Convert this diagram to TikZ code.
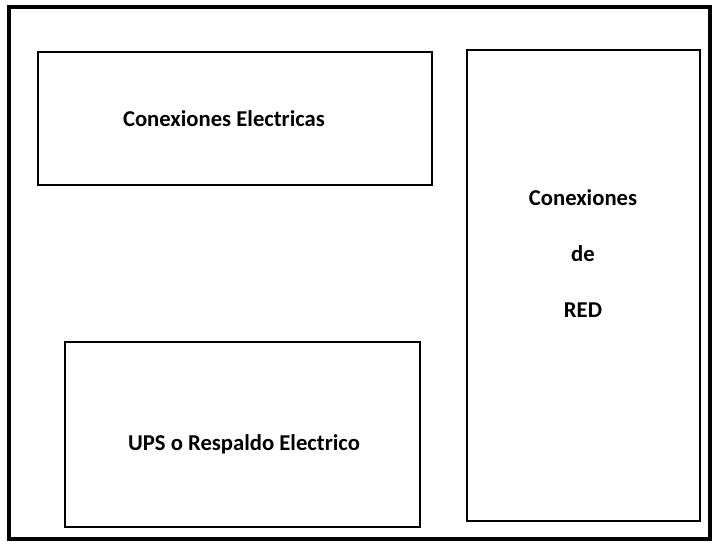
\documentclass[tikz,border=0pt]{standalone}
\usepackage{fontspec}
\setmainfont{Carlito}
\usetikzlibrary{positioning}

\tikzset{
  marco/.style = {black, line width = 2.4pt},
  caja/.style = {black, line width = 1.7pt},
  etiqueta/.style = {font = \bfseries\fontsize{17}{20}\selectfont, inner sep = 0pt}
}

\begin{document}
\begin{tikzpicture}[x = 0.75pt, y = -0.75pt]
	\useasboundingbox [fill = white] (0, 0) rectangle (716, 544);
	\draw [marco] (9, 7) rectangle (710, 539);
	\draw [caja] (38, 52) rectangle (432, 185);
	\draw [caja] (467, 50) rectangle (700, 521);
	\draw [caja] (65, 342) rectangle (420, 527);
	\node [etiqueta] (electricas) at (224, 119) {Conexiones Electricas};
	\node [etiqueta] (conexiones) at (583, 198) {Conexiones};
	\node [etiqueta] (de) at (583, 254) {de};
	\node [etiqueta] (red) at (583, 310) {RED};
	\node [etiqueta] (ups) at (244, 444) {UPS o Respaldo Electrico};
\end{tikzpicture}
\end{document}
